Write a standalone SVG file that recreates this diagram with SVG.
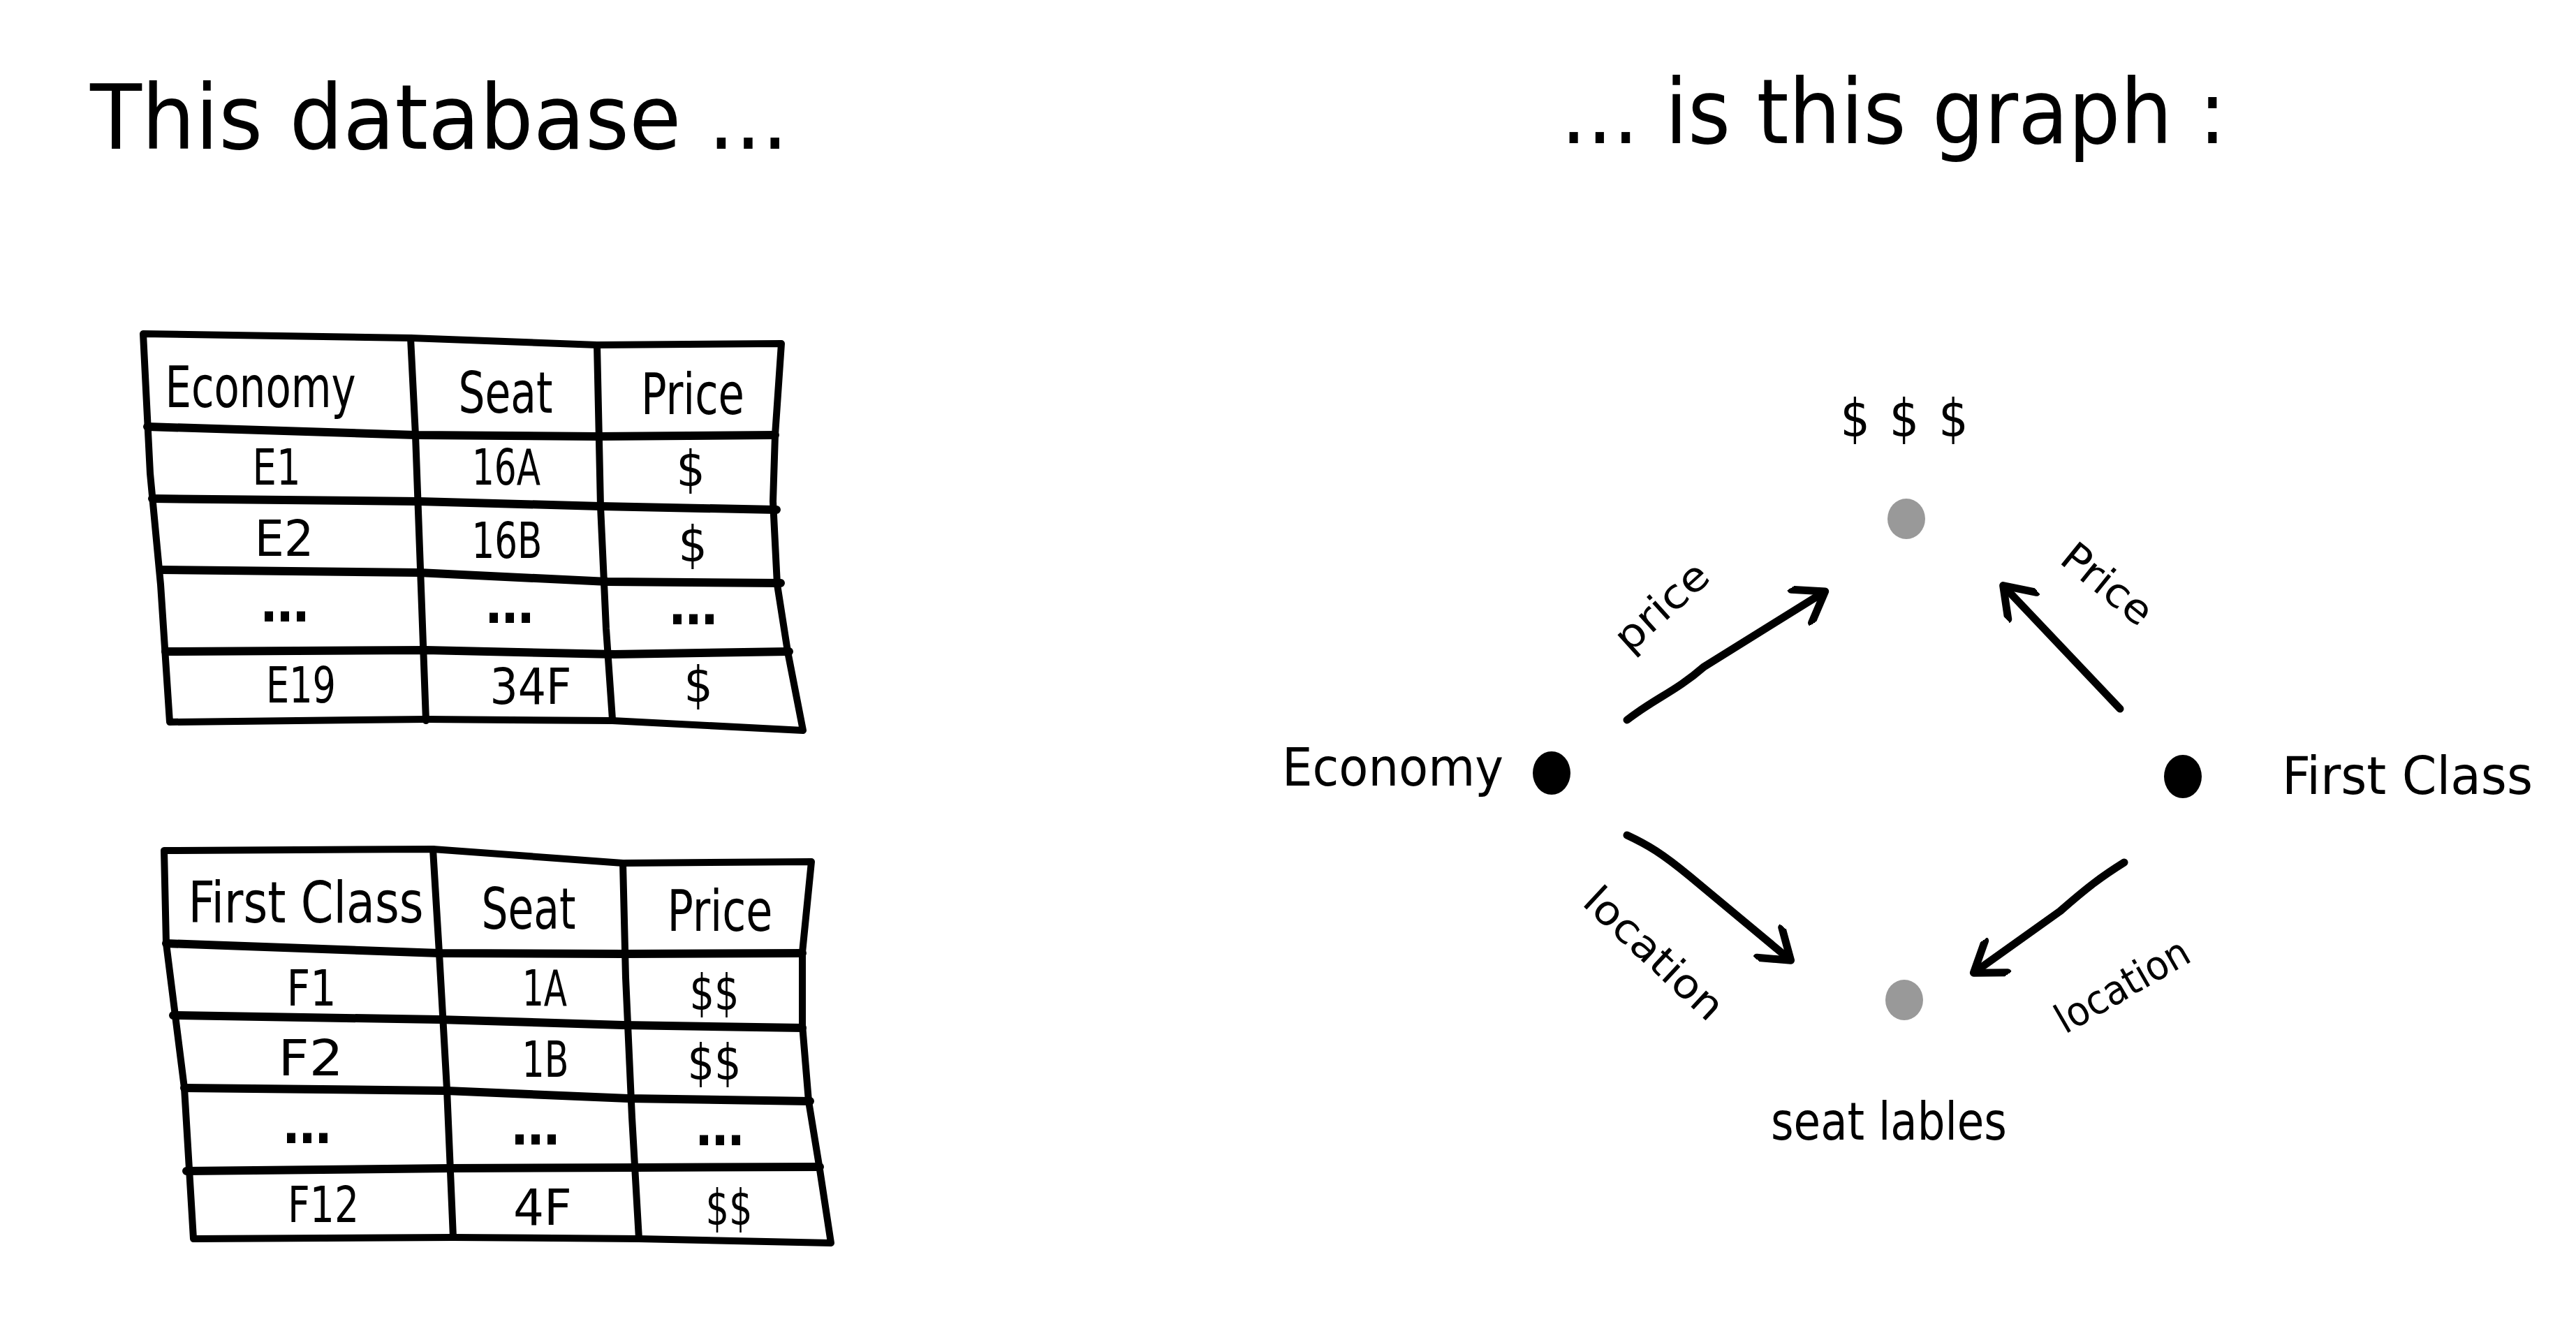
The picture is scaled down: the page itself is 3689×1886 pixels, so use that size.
<svg xmlns="http://www.w3.org/2000/svg" width="3689" height="1886" viewBox="0 0 3689 1886">
<style>
text{font-family:"Liberation Sans Narrow","DejaVu Sans Condensed","Liberation Sans",sans-serif;fill:#000}
.title{font-size:128px}
.hdr{font-size:82px;text-anchor:middle}
.cell{font-size:72px;text-anchor:middle}
.dots{font-size:76px;text-anchor:middle;font-weight:bold}
.lbl{font-size:74px}
.edge{font-size:58px;text-anchor:middle}
.grid{fill:none;stroke:#000;stroke-width:10;stroke-linejoin:round;stroke-linecap:round}
.row{fill:none;stroke:#000;stroke-width:12;stroke-linejoin:round;stroke-linecap:round}
.arr{fill:none;stroke:#000;stroke-width:11;stroke-linecap:round;marker-end:url(#head)}
</style>
<defs>
<marker id="head" viewBox="0 0 60 60" refX="52" refY="30" markerUnits="userSpaceOnUse" markerWidth="60" markerHeight="60" orient="auto">
<path d="M14,2 L54,30 L14,58" fill="none" stroke="#000" stroke-width="11" stroke-linecap="round" stroke-linejoin="round"/>
</marker>
</defs>
<rect width="3689" height="1886" fill="#fff"/>

<g id="title-left"><text class="title" x="129" y="213" textLength="1000" lengthAdjust="spacingAndGlyphs">This database ...</text></g>
<g id="title-right"><text class="title" x="2235" y="205" textLength="953" lengthAdjust="spacingAndGlyphs">... is this graph :</text></g>

<g id="table-economy">
<path class="grid" d="M205,478 L588,484 L855,494 L1119,492 L1110,623 L1107,718 L1113,837 L1128,933 L1150,1046 L877,1032 L610,1030 L243,1034 L230,837 L215,678 Z"/>
<path class="row" d="M211,611 L595,623 L855,625 L1110,623"/>
<path class="row" d="M218,714 L600,718 L860,725 L1112,730"/>
<path class="row" d="M230,816 L600,820 L870,833 L1118,835"/>
<path class="row" d="M237,933 L610,931 L880,937 L1130,933"/>
<path class="grid" d="M588,484 L595,623 L600,760 L610,1032"/>
<path class="grid" d="M855,494 L860,725 L868,900 L877,1030"/>
<text class="hdr" x="373" y="583" textLength="273" lengthAdjust="spacingAndGlyphs">Economy</text>
<text class="hdr" x="724" y="591" textLength="135" lengthAdjust="spacingAndGlyphs">Seat</text>
<text class="hdr" x="992" y="593" textLength="148" lengthAdjust="spacingAndGlyphs">Price</text>
<text class="cell" x="396" y="694" textLength="69" lengthAdjust="spacingAndGlyphs">E1</text>
<text class="cell" x="725" y="694" textLength="98" lengthAdjust="spacingAndGlyphs">16A</text>
<text class="cell" x="989" y="696">$</text>
<text class="cell" x="407" y="796" textLength="85" lengthAdjust="spacingAndGlyphs">E2</text>
<text class="cell" x="726" y="799" textLength="101" lengthAdjust="spacingAndGlyphs">16B</text>
<text class="cell" x="992" y="804">$</text>
<text class="dots" x="408" y="890" textLength="72" lengthAdjust="spacing">...</text>
<text class="dots" x="730" y="892" textLength="72" lengthAdjust="spacing">...</text>
<text class="dots" x="993" y="894" textLength="72" lengthAdjust="spacing">...</text>
<text class="cell" x="431" y="1006" textLength="100" lengthAdjust="spacingAndGlyphs">E19</text>
<text class="cell" x="760" y="1008" textLength="117" lengthAdjust="spacingAndGlyphs">34F</text>
<text class="cell" x="1000" y="1005">$</text>
</g>

<g id="table-first">
<path class="grid" d="M235,1218 L620,1216 L892,1236 L1162,1234 L1149,1364 L1149,1468 L1158,1577 L1174,1675 L1190,1780 L915,1774 L649,1772 L277,1774 L264,1558 L238,1351 Z"/>
<path class="row" d="M238,1351 L629,1365 L892,1366 L1149,1365"/>
<path class="row" d="M248,1454 L629,1460 L892,1468 L1149,1472"/>
<path class="row" d="M264,1558 L640,1562 L900,1573 L1160,1577"/>
<path class="row" d="M267,1677 L645,1673 L910,1672 L1174,1671"/>
<path class="grid" d="M620,1216 L629,1365 L640,1560 L649,1772"/>
<path class="grid" d="M892,1236 L896,1400 L905,1600 L915,1774"/>
<text class="hdr" x="438" y="1321" textLength="337" lengthAdjust="spacingAndGlyphs">First Class</text>
<text class="hdr" x="757" y="1330" textLength="135" lengthAdjust="spacingAndGlyphs">Seat</text>
<text class="hdr" x="1031" y="1333" textLength="151" lengthAdjust="spacingAndGlyphs">Price</text>
<text class="cell" x="446" y="1440" textLength="71" lengthAdjust="spacingAndGlyphs">F1</text>
<text class="cell" x="780" y="1440" textLength="64" lengthAdjust="spacingAndGlyphs">1A</text>
<text class="cell" x="1023" y="1446" textLength="71" lengthAdjust="spacingAndGlyphs">$$</text>
<text class="cell" x="445" y="1540" textLength="93" lengthAdjust="spacingAndGlyphs">F2</text>
<text class="cell" x="781" y="1542" textLength="67" lengthAdjust="spacingAndGlyphs">1B</text>
<text class="cell" x="1023" y="1546" textLength="77" lengthAdjust="spacingAndGlyphs">$$</text>
<text class="dots" x="440" y="1637" textLength="72" lengthAdjust="spacing">...</text>
<text class="dots" x="767" y="1639" textLength="72" lengthAdjust="spacing">...</text>
<text class="dots" x="1031" y="1640" textLength="72" lengthAdjust="spacing">...</text>
<text class="cell" x="463" y="1750" textLength="102" lengthAdjust="spacingAndGlyphs">F12</text>
<text class="cell" x="777" y="1754" textLength="84" lengthAdjust="spacingAndGlyphs">4F</text>
<text class="cell" x="1044" y="1754" textLength="67" lengthAdjust="spacingAndGlyphs">$$</text>
</g>

<g id="connectors">
<path id="e-price" class="arr" d="M2330,1031 C2370,1000 2400,990 2440,955 L2612,848"/>
<path id="f-price" class="arr" d="M3036,1015 Q2960,935 2870,840"/>
<path id="e-loc" class="arr" d="M2330,1196 C2360,1210 2380,1222 2420,1255 L2563,1374"/>
<path id="f-loc" class="arr" d="M3042,1235 C3010,1255 2990,1270 2950,1305 L2828,1392"/>
<text class="edge" transform="translate(2379,868) rotate(-42)" dy="0.35em" textLength="160" lengthAdjust="spacingAndGlyphs">price</text>
<text class="edge" transform="translate(3018,836) rotate(39)" dy="0.35em" textLength="150" lengthAdjust="spacingAndGlyphs">Price</text>
<text class="edge" transform="translate(2369,1365) rotate(43)" dy="0.35em" textLength="250" lengthAdjust="spacingAndGlyphs">location</text>
<text class="edge" transform="translate(3039,1411) rotate(-30)" dy="0.35em" textLength="212" lengthAdjust="spacingAndGlyphs">location</text>
</g>

<g id="node-price">
<ellipse cx="2730" cy="743" rx="27" ry="29" fill="#999"/>
<text class="lbl" x="2727" y="625" text-anchor="middle" textLength="183" lengthAdjust="spacing">$$$</text>
</g>
<g id="node-seat">
<ellipse cx="2727" cy="1432" rx="27" ry="29" fill="#999"/>
<text class="lbl" x="2705" y="1632" text-anchor="middle" textLength="338" lengthAdjust="spacingAndGlyphs">seat lables</text>
</g>
<g id="node-economy">
<ellipse cx="2222" cy="1107" rx="27" ry="31" fill="#000"/>
<text class="lbl" x="1836" y="1125" textLength="317" lengthAdjust="spacingAndGlyphs">Economy</text>
</g>
<g id="node-first">
<ellipse cx="3126" cy="1112" rx="27" ry="31" fill="#000"/>
<text class="lbl" x="3268" y="1137" textLength="359" lengthAdjust="spacingAndGlyphs">First Class</text>
</g>
</svg>
